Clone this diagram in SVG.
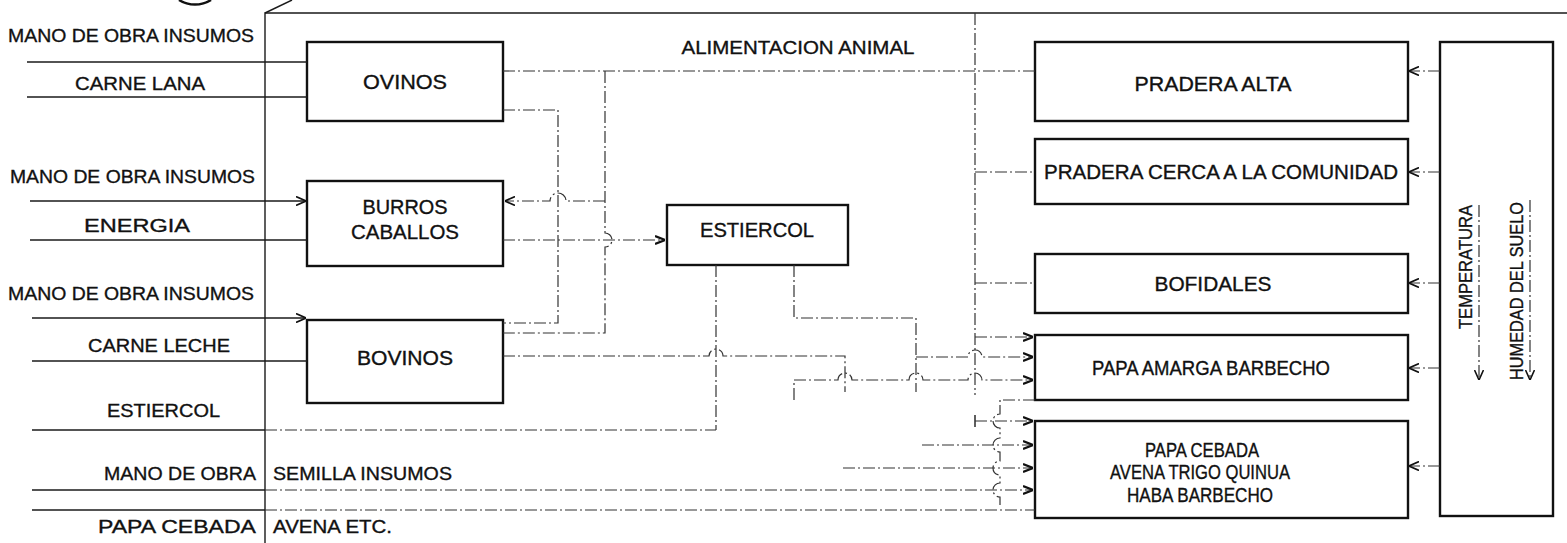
<svg xmlns="http://www.w3.org/2000/svg" width="1567" height="543" viewBox="0 0 1567 543">
<style>
.t{font-family:"Liberation Sans",Arial,sans-serif;font-size:19px;fill:#111;stroke:#111;stroke-width:0.35}
.b{font-size:20px}
.m{text-anchor:middle}
.box{fill:#fff;stroke:#111;stroke-width:2.4}
.in{fill:none;stroke:#1a1a1a;stroke-width:1.4}
.c{fill:none;stroke:#333;stroke-width:1.2;stroke-dasharray:12 3 2 3}
.fr{fill:none;stroke:#1a1a1a;stroke-width:1.4}
</style>
<defs>
<marker id="a" viewBox="0 0 10 10" refX="10" refY="5" markerWidth="10" markerHeight="10" markerUnits="userSpaceOnUse" orient="auto"><path d="M0,0.5 L10,5 L0,9.5" fill="none" stroke="#111" stroke-width="1.6"/></marker>
<marker id="f" viewBox="0 0 10 10" refX="10" refY="5" markerWidth="10" markerHeight="10" markerUnits="userSpaceOnUse" orient="auto"><path d="M0,1 L10,5 L0,9" fill="none" stroke="#111" stroke-width="2.2"/></marker>
</defs>

<g id="frame">
<path class="fr" d="M265,543 V13 H1567"/>
<path class="fr" d="M265,13 L292,0"/>
<path d="M179,0 A30,30 0 0 0 211,0" fill="none" stroke="#111" stroke-width="2.5"/>
</g>

<g id="inputs">
<text class="t" x="8" y="42" textLength="246" lengthAdjust="spacingAndGlyphs">MANO DE OBRA INSUMOS</text>
<text class="t" x="75" y="90" textLength="130" lengthAdjust="spacingAndGlyphs">CARNE LANA</text>
<text class="t" x="10" y="183" textLength="245" lengthAdjust="spacingAndGlyphs">MANO DE OBRA INSUMOS</text>
<text class="t" x="84" y="232" textLength="106" lengthAdjust="spacingAndGlyphs">ENERGIA</text>
<text class="t" x="8" y="300" textLength="246" lengthAdjust="spacingAndGlyphs">MANO DE OBRA INSUMOS</text>
<text class="t" x="88" y="352" textLength="142" lengthAdjust="spacingAndGlyphs">CARNE LECHE</text>
<text class="t" x="107" y="417" textLength="113" lengthAdjust="spacingAndGlyphs">ESTIERCOL</text>
<text class="t" x="104" y="480" textLength="152" lengthAdjust="spacingAndGlyphs">MANO DE OBRA</text>
<text class="t" x="273" y="480" textLength="179" lengthAdjust="spacingAndGlyphs">SEMILLA INSUMOS</text>
<text class="t" x="98" y="533" textLength="158" lengthAdjust="spacingAndGlyphs">PAPA CEBADA</text>
<text class="t" x="273" y="533" textLength="119" lengthAdjust="spacingAndGlyphs">AVENA ETC.</text>
<text class="t m" x="798" y="54" textLength="233" lengthAdjust="spacingAndGlyphs">ALIMENTACION ANIMAL</text>
</g>

<g id="ovinos"><rect class="box" x="307" y="42" width="196" height="79"/><text class="t b m" x="405" y="89" textLength="84" lengthAdjust="spacingAndGlyphs">OVINOS</text></g>
<g id="burros"><rect class="box" x="307" y="181" width="196" height="85"/><text class="t b m" x="405" y="214" textLength="85" lengthAdjust="spacingAndGlyphs">BURROS</text><text class="t b m" x="405" y="239" textLength="108" lengthAdjust="spacingAndGlyphs">CABALLOS</text></g>
<g id="bovinos"><rect class="box" x="307" y="320" width="196" height="83"/><text class="t b m" x="405" y="365" textLength="96" lengthAdjust="spacingAndGlyphs">BOVINOS</text></g>
<g id="estiercol"><rect class="box" x="667" y="205" width="181" height="60"/><text class="t b m" x="757" y="237" textLength="114" lengthAdjust="spacingAndGlyphs">ESTIERCOL</text></g>
<g id="pradera-alta"><rect class="box" x="1035" y="42" width="373" height="79"/><text class="t b m" x="1213" y="91" textLength="157" lengthAdjust="spacingAndGlyphs">PRADERA ALTA</text></g>
<g id="pradera-cerca"><rect class="box" x="1035" y="139" width="373" height="65"/><text class="t b m" x="1221" y="179" textLength="354" lengthAdjust="spacingAndGlyphs">PRADERA CERCA A LA COMUNIDAD</text></g>
<g id="bofidales"><rect class="box" x="1035" y="254" width="373" height="59"/><text class="t b m" x="1213" y="291" textLength="117" lengthAdjust="spacingAndGlyphs">BOFIDALES</text></g>
<g id="papa-amarga"><rect class="box" x="1035" y="335" width="373" height="65"/><text class="t b m" x="1211" y="375" textLength="238" lengthAdjust="spacingAndGlyphs">PAPA AMARGA BARBECHO</text></g>
<g id="papa-cebada"><rect class="box" x="1035" y="421" width="373" height="97"/>
<text class="t b m" x="1202" y="457" textLength="114" lengthAdjust="spacingAndGlyphs">PAPA CEBADA</text>
<text class="t b m" x="1200" y="479" textLength="180" lengthAdjust="spacingAndGlyphs">AVENA TRIGO QUINUA</text>
<text class="t b m" x="1200" y="502" textLength="146" lengthAdjust="spacingAndGlyphs">HABA BARBECHO</text></g>
<g id="clima"><rect class="box" x="1440" y="42" width="113" height="474"/>
<text class="t m" transform="translate(1472,267) rotate(-90)" textLength="124" lengthAdjust="spacingAndGlyphs">TEMPERATURA</text>
<text class="t m" transform="translate(1523,291) rotate(-90)" textLength="178" lengthAdjust="spacingAndGlyphs">HUMEDAD DEL SUELO</text>
<path class="c" d="M1479,205 V380" marker-end="url(#a)"/>
<path class="c" d="M1530,200 V380" marker-end="url(#a)"/>
</g>

<g id="connectors">
<path class="in" d="M27,62 H307"/>
<path class="in" d="M27,97 H307"/>
<path class="in" d="M30,201 H306" marker-end="url(#a)"/>
<path class="in" d="M30,240 H307"/>
<path class="in" d="M32,318 H306" marker-end="url(#a)"/>
<path class="in" d="M32,361 H307"/>
<path class="in" d="M32,430 H265"/><path class="c" d="M265,430 H716"/>
<path class="in" d="M32,490 H265"/><path class="c" d="M265,490 H1033" marker-end="url(#f)"/>
<path class="in" d="M32,510 H265"/><path class="c" d="M265,510 H1035"/>

<path class="c" d="M503,71 H1035"/>
<path class="c" d="M503,110 H558 V323 H503"/>
<path class="c" d="M605,71 V233 a7,7 0 0 1 0,14 V333 H503"/>
<path class="c" d="M605,201 H566 a8,8 0 0 0 -16,0 H505" marker-end="url(#a)"/>
<path class="c" d="M503,240 H665" marker-end="url(#f)"/>
<path class="c" d="M716,265 V430"/>
<path class="c" d="M794,265 V318 H916 V392"/>
<path class="c" d="M916,357 H968 a7,7 0 0 1 14,0 H1033" marker-end="url(#f)"/>
<path class="c" d="M503,356 H709 a7,7 0 0 1 14,0 H845 V392"/>
<path class="c" d="M794,400 V380 H838 a7,7 0 0 1 14,0 H909 a7,7 0 0 1 14,0 H968 a7,7 0 0 1 14,0 H1033" marker-end="url(#f)"/>
<path class="c" d="M975,13 V395"/>
<path class="c" d="M975,172 H1035"/>
<path class="c" d="M975,283 H1035"/>
<path class="c" d="M975,337 H1033" marker-end="url(#f)"/>
<path class="c" d="M1035,400 H1000 V414 a7,7 0 0 0 0,14 V438 a7,7 0 0 0 0,14 V461 a7,7 0 0 0 0,14 V483 a7,7 0 0 0 0,14 V505"/>
<path class="in" d="M975,415 V427"/>
<path class="c" d="M975,421 H1033" marker-end="url(#f)"/>
<path class="c" d="M922,445 H1033" marker-end="url(#f)"/>
<path class="c" d="M843,468 H1033" marker-end="url(#f)"/>
<path class="c" d="M1440,71 H1409" marker-end="url(#a)"/>
<path class="c" d="M1440,172 H1409" marker-end="url(#a)"/>
<path class="c" d="M1440,283 H1409" marker-end="url(#a)"/>
<path class="c" d="M1440,368 H1409" marker-end="url(#a)"/>
<path class="c" d="M1440,466 H1409" marker-end="url(#a)"/>
</g>
</svg>
